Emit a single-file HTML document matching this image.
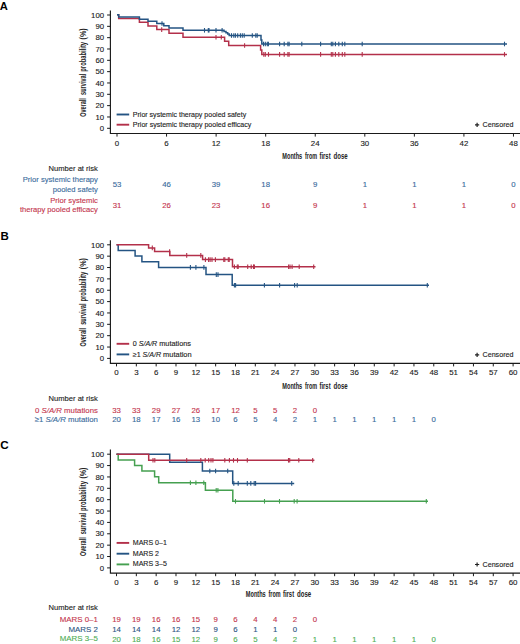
<!DOCTYPE html><html><head><meta charset="utf-8"><style>html,body{margin:0;padding:0;background:#fff;width:520px;height:644px;overflow:hidden}svg{display:block}text{font-family:"Liberation Sans",sans-serif;stroke-width:0.12px}</style></head><body>
<svg width="520" height="644" viewBox="0 0 520 644">
<rect width="520" height="644" fill="#fff"/>
<path d="M110.4 10.4 V133.5 H520" fill="none" stroke="#1a1a1a" stroke-width="1.15"/>
<line x1="107.10000000000001" y1="128.30" x2="110.4" y2="128.30" stroke="#1a1a1a" stroke-width="1"/>
<text x="104.10" y="131.00" font-size="7.8" text-anchor="end" fill="#222"  stroke="#222">0</text>
<line x1="107.10000000000001" y1="116.97" x2="110.4" y2="116.97" stroke="#1a1a1a" stroke-width="1"/>
<text x="104.10" y="119.67" font-size="7.8" text-anchor="end" fill="#222"  stroke="#222">10</text>
<line x1="107.10000000000001" y1="105.64" x2="110.4" y2="105.64" stroke="#1a1a1a" stroke-width="1"/>
<text x="104.10" y="108.34" font-size="7.8" text-anchor="end" fill="#222"  stroke="#222">20</text>
<line x1="107.10000000000001" y1="94.31" x2="110.4" y2="94.31" stroke="#1a1a1a" stroke-width="1"/>
<text x="104.10" y="97.01" font-size="7.8" text-anchor="end" fill="#222"  stroke="#222">30</text>
<line x1="107.10000000000001" y1="82.98" x2="110.4" y2="82.98" stroke="#1a1a1a" stroke-width="1"/>
<text x="104.10" y="85.68" font-size="7.8" text-anchor="end" fill="#222"  stroke="#222">40</text>
<line x1="107.10000000000001" y1="71.65" x2="110.4" y2="71.65" stroke="#1a1a1a" stroke-width="1"/>
<text x="104.10" y="74.35" font-size="7.8" text-anchor="end" fill="#222"  stroke="#222">50</text>
<line x1="107.10000000000001" y1="60.32" x2="110.4" y2="60.32" stroke="#1a1a1a" stroke-width="1"/>
<text x="104.10" y="63.02" font-size="7.8" text-anchor="end" fill="#222"  stroke="#222">60</text>
<line x1="107.10000000000001" y1="48.99" x2="110.4" y2="48.99" stroke="#1a1a1a" stroke-width="1"/>
<text x="104.10" y="51.69" font-size="7.8" text-anchor="end" fill="#222"  stroke="#222">70</text>
<line x1="107.10000000000001" y1="37.66" x2="110.4" y2="37.66" stroke="#1a1a1a" stroke-width="1"/>
<text x="104.10" y="40.36" font-size="7.8" text-anchor="end" fill="#222"  stroke="#222">80</text>
<line x1="107.10000000000001" y1="26.33" x2="110.4" y2="26.33" stroke="#1a1a1a" stroke-width="1"/>
<text x="104.10" y="29.03" font-size="7.8" text-anchor="end" fill="#222"  stroke="#222">90</text>
<line x1="107.10000000000001" y1="15.00" x2="110.4" y2="15.00" stroke="#1a1a1a" stroke-width="1"/>
<text x="104.10" y="17.70" font-size="7.8" text-anchor="end" fill="#222"  stroke="#222">100</text>
<line x1="117.00" y1="133.5" x2="117.00" y2="136.60" stroke="#1a1a1a" stroke-width="1"/>
<text x="117.00" y="145.60" font-size="7.9" text-anchor="middle" fill="#222"  stroke="#222">0</text>
<line x1="166.56" y1="133.5" x2="166.56" y2="136.60" stroke="#1a1a1a" stroke-width="1"/>
<text x="166.56" y="145.60" font-size="7.9" text-anchor="middle" fill="#222"  stroke="#222">6</text>
<line x1="216.12" y1="133.5" x2="216.12" y2="136.60" stroke="#1a1a1a" stroke-width="1"/>
<text x="216.12" y="145.60" font-size="7.9" text-anchor="middle" fill="#222"  stroke="#222">12</text>
<line x1="265.68" y1="133.5" x2="265.68" y2="136.60" stroke="#1a1a1a" stroke-width="1"/>
<text x="265.68" y="145.60" font-size="7.9" text-anchor="middle" fill="#222"  stroke="#222">18</text>
<line x1="315.24" y1="133.5" x2="315.24" y2="136.60" stroke="#1a1a1a" stroke-width="1"/>
<text x="315.24" y="145.60" font-size="7.9" text-anchor="middle" fill="#222"  stroke="#222">24</text>
<line x1="364.80" y1="133.5" x2="364.80" y2="136.60" stroke="#1a1a1a" stroke-width="1"/>
<text x="364.80" y="145.60" font-size="7.9" text-anchor="middle" fill="#222"  stroke="#222">30</text>
<line x1="414.36" y1="133.5" x2="414.36" y2="136.60" stroke="#1a1a1a" stroke-width="1"/>
<text x="414.36" y="145.60" font-size="7.9" text-anchor="middle" fill="#222"  stroke="#222">36</text>
<line x1="463.92" y1="133.5" x2="463.92" y2="136.60" stroke="#1a1a1a" stroke-width="1"/>
<text x="463.92" y="145.60" font-size="7.9" text-anchor="middle" fill="#222"  stroke="#222">42</text>
<line x1="513.48" y1="133.5" x2="513.48" y2="136.60" stroke="#1a1a1a" stroke-width="1"/>
<text x="513.48" y="145.60" font-size="7.9" text-anchor="middle" fill="#222"  stroke="#222">48</text>
<text x="282.30" y="158.6" font-size="8.7" fill="#222" textLength="19.9" lengthAdjust="spacingAndGlyphs" font-weight="bold">Months</text>
<text x="305.00" y="158.6" font-size="8.7" fill="#222" textLength="12.1" lengthAdjust="spacingAndGlyphs" font-weight="bold">from</text>
<text x="319.50" y="158.6" font-size="8.7" fill="#222" textLength="11.1" lengthAdjust="spacingAndGlyphs" font-weight="bold">first</text>
<text x="333.50" y="158.6" font-size="8.7" fill="#222" textLength="14.2" lengthAdjust="spacingAndGlyphs" font-weight="bold">dose</text>
<text transform="translate(86.1 116.80) rotate(-90)" x="0" y="0" font-size="8.6" fill="#222" textLength="18.7" lengthAdjust="spacingAndGlyphs" font-weight="bold">Overall</text>
<text transform="translate(86.1 95.00) rotate(-90)" x="0" y="0" font-size="8.6" fill="#222" textLength="21.3" lengthAdjust="spacingAndGlyphs" font-weight="bold">survival</text>
<text transform="translate(86.1 71.70) rotate(-90)" x="0" y="0" font-size="8.6" fill="#222" textLength="29.8" lengthAdjust="spacingAndGlyphs" font-weight="bold">probability</text>
<text transform="translate(86.1 39.40) rotate(-90)" x="0" y="0" font-size="8.6" fill="#222" textLength="11.1" lengthAdjust="spacingAndGlyphs" font-weight="bold">(%)</text>
<text x="-0.3" y="10.1" font-size="11.2" font-weight="bold" fill="#000">A</text>
<path d="M475 124.80 H479.2 M477.1 122.70 V126.90" stroke="#222" stroke-width="1.2"/>
<text x="482.5" y="127.10" font-size="7.2" fill="#222" textLength="31" lengthAdjust="spacingAndGlyphs" stroke="#222">Censored</text>
<path d="M110.4 240.2 V363.3 H520" fill="none" stroke="#1a1a1a" stroke-width="1.15"/>
<line x1="107.10000000000001" y1="358.40" x2="110.4" y2="358.40" stroke="#1a1a1a" stroke-width="1"/>
<text x="104.10" y="361.10" font-size="7.8" text-anchor="end" fill="#222"  stroke="#222">0</text>
<line x1="107.10000000000001" y1="347.04" x2="110.4" y2="347.04" stroke="#1a1a1a" stroke-width="1"/>
<text x="104.10" y="349.74" font-size="7.8" text-anchor="end" fill="#222"  stroke="#222">10</text>
<line x1="107.10000000000001" y1="335.68" x2="110.4" y2="335.68" stroke="#1a1a1a" stroke-width="1"/>
<text x="104.10" y="338.38" font-size="7.8" text-anchor="end" fill="#222"  stroke="#222">20</text>
<line x1="107.10000000000001" y1="324.32" x2="110.4" y2="324.32" stroke="#1a1a1a" stroke-width="1"/>
<text x="104.10" y="327.02" font-size="7.8" text-anchor="end" fill="#222"  stroke="#222">30</text>
<line x1="107.10000000000001" y1="312.96" x2="110.4" y2="312.96" stroke="#1a1a1a" stroke-width="1"/>
<text x="104.10" y="315.66" font-size="7.8" text-anchor="end" fill="#222"  stroke="#222">40</text>
<line x1="107.10000000000001" y1="301.60" x2="110.4" y2="301.60" stroke="#1a1a1a" stroke-width="1"/>
<text x="104.10" y="304.30" font-size="7.8" text-anchor="end" fill="#222"  stroke="#222">50</text>
<line x1="107.10000000000001" y1="290.24" x2="110.4" y2="290.24" stroke="#1a1a1a" stroke-width="1"/>
<text x="104.10" y="292.94" font-size="7.8" text-anchor="end" fill="#222"  stroke="#222">60</text>
<line x1="107.10000000000001" y1="278.88" x2="110.4" y2="278.88" stroke="#1a1a1a" stroke-width="1"/>
<text x="104.10" y="281.58" font-size="7.8" text-anchor="end" fill="#222"  stroke="#222">70</text>
<line x1="107.10000000000001" y1="267.52" x2="110.4" y2="267.52" stroke="#1a1a1a" stroke-width="1"/>
<text x="104.10" y="270.22" font-size="7.8" text-anchor="end" fill="#222"  stroke="#222">80</text>
<line x1="107.10000000000001" y1="256.16" x2="110.4" y2="256.16" stroke="#1a1a1a" stroke-width="1"/>
<text x="104.10" y="258.86" font-size="7.8" text-anchor="end" fill="#222"  stroke="#222">90</text>
<line x1="107.10000000000001" y1="244.80" x2="110.4" y2="244.80" stroke="#1a1a1a" stroke-width="1"/>
<text x="104.10" y="247.50" font-size="7.8" text-anchor="end" fill="#222"  stroke="#222">100</text>
<line x1="116.50" y1="363.3" x2="116.50" y2="366.40" stroke="#1a1a1a" stroke-width="1"/>
<text x="116.50" y="375.40" font-size="7.9" text-anchor="middle" fill="#222"  stroke="#222">0</text>
<line x1="136.33" y1="363.3" x2="136.33" y2="366.40" stroke="#1a1a1a" stroke-width="1"/>
<text x="136.33" y="375.40" font-size="7.9" text-anchor="middle" fill="#222"  stroke="#222">3</text>
<line x1="156.16" y1="363.3" x2="156.16" y2="366.40" stroke="#1a1a1a" stroke-width="1"/>
<text x="156.16" y="375.40" font-size="7.9" text-anchor="middle" fill="#222"  stroke="#222">6</text>
<line x1="175.99" y1="363.3" x2="175.99" y2="366.40" stroke="#1a1a1a" stroke-width="1"/>
<text x="175.99" y="375.40" font-size="7.9" text-anchor="middle" fill="#222"  stroke="#222">9</text>
<line x1="195.82" y1="363.3" x2="195.82" y2="366.40" stroke="#1a1a1a" stroke-width="1"/>
<text x="195.82" y="375.40" font-size="7.9" text-anchor="middle" fill="#222"  stroke="#222">12</text>
<line x1="215.65" y1="363.3" x2="215.65" y2="366.40" stroke="#1a1a1a" stroke-width="1"/>
<text x="215.65" y="375.40" font-size="7.9" text-anchor="middle" fill="#222"  stroke="#222">15</text>
<line x1="235.48" y1="363.3" x2="235.48" y2="366.40" stroke="#1a1a1a" stroke-width="1"/>
<text x="235.48" y="375.40" font-size="7.9" text-anchor="middle" fill="#222"  stroke="#222">18</text>
<line x1="255.31" y1="363.3" x2="255.31" y2="366.40" stroke="#1a1a1a" stroke-width="1"/>
<text x="255.31" y="375.40" font-size="7.9" text-anchor="middle" fill="#222"  stroke="#222">21</text>
<line x1="275.14" y1="363.3" x2="275.14" y2="366.40" stroke="#1a1a1a" stroke-width="1"/>
<text x="275.14" y="375.40" font-size="7.9" text-anchor="middle" fill="#222"  stroke="#222">24</text>
<line x1="294.97" y1="363.3" x2="294.97" y2="366.40" stroke="#1a1a1a" stroke-width="1"/>
<text x="294.97" y="375.40" font-size="7.9" text-anchor="middle" fill="#222"  stroke="#222">27</text>
<line x1="314.80" y1="363.3" x2="314.80" y2="366.40" stroke="#1a1a1a" stroke-width="1"/>
<text x="314.80" y="375.40" font-size="7.9" text-anchor="middle" fill="#222"  stroke="#222">30</text>
<line x1="334.63" y1="363.3" x2="334.63" y2="366.40" stroke="#1a1a1a" stroke-width="1"/>
<text x="334.63" y="375.40" font-size="7.9" text-anchor="middle" fill="#222"  stroke="#222">33</text>
<line x1="354.46" y1="363.3" x2="354.46" y2="366.40" stroke="#1a1a1a" stroke-width="1"/>
<text x="354.46" y="375.40" font-size="7.9" text-anchor="middle" fill="#222"  stroke="#222">36</text>
<line x1="374.29" y1="363.3" x2="374.29" y2="366.40" stroke="#1a1a1a" stroke-width="1"/>
<text x="374.29" y="375.40" font-size="7.9" text-anchor="middle" fill="#222"  stroke="#222">39</text>
<line x1="394.12" y1="363.3" x2="394.12" y2="366.40" stroke="#1a1a1a" stroke-width="1"/>
<text x="394.12" y="375.40" font-size="7.9" text-anchor="middle" fill="#222"  stroke="#222">42</text>
<line x1="413.95" y1="363.3" x2="413.95" y2="366.40" stroke="#1a1a1a" stroke-width="1"/>
<text x="413.95" y="375.40" font-size="7.9" text-anchor="middle" fill="#222"  stroke="#222">45</text>
<line x1="433.78" y1="363.3" x2="433.78" y2="366.40" stroke="#1a1a1a" stroke-width="1"/>
<text x="433.78" y="375.40" font-size="7.9" text-anchor="middle" fill="#222"  stroke="#222">48</text>
<line x1="453.61" y1="363.3" x2="453.61" y2="366.40" stroke="#1a1a1a" stroke-width="1"/>
<text x="453.61" y="375.40" font-size="7.9" text-anchor="middle" fill="#222"  stroke="#222">51</text>
<line x1="473.44" y1="363.3" x2="473.44" y2="366.40" stroke="#1a1a1a" stroke-width="1"/>
<text x="473.44" y="375.40" font-size="7.9" text-anchor="middle" fill="#222"  stroke="#222">54</text>
<line x1="493.27" y1="363.3" x2="493.27" y2="366.40" stroke="#1a1a1a" stroke-width="1"/>
<text x="493.27" y="375.40" font-size="7.9" text-anchor="middle" fill="#222"  stroke="#222">57</text>
<line x1="513.10" y1="363.3" x2="513.10" y2="366.40" stroke="#1a1a1a" stroke-width="1"/>
<text x="513.10" y="375.40" font-size="7.9" text-anchor="middle" fill="#222"  stroke="#222">60</text>
<text x="282.30" y="388.5" font-size="8.7" fill="#222" textLength="19.9" lengthAdjust="spacingAndGlyphs" font-weight="bold">Months</text>
<text x="305.00" y="388.5" font-size="8.7" fill="#222" textLength="12.1" lengthAdjust="spacingAndGlyphs" font-weight="bold">from</text>
<text x="319.50" y="388.5" font-size="8.7" fill="#222" textLength="11.1" lengthAdjust="spacingAndGlyphs" font-weight="bold">first</text>
<text x="333.50" y="388.5" font-size="8.7" fill="#222" textLength="14.2" lengthAdjust="spacingAndGlyphs" font-weight="bold">dose</text>
<text transform="translate(86.1 346.60) rotate(-90)" x="0" y="0" font-size="8.6" fill="#222" textLength="18.7" lengthAdjust="spacingAndGlyphs" font-weight="bold">Overall</text>
<text transform="translate(86.1 324.80) rotate(-90)" x="0" y="0" font-size="8.6" fill="#222" textLength="21.3" lengthAdjust="spacingAndGlyphs" font-weight="bold">survival</text>
<text transform="translate(86.1 301.50) rotate(-90)" x="0" y="0" font-size="8.6" fill="#222" textLength="29.8" lengthAdjust="spacingAndGlyphs" font-weight="bold">probability</text>
<text transform="translate(86.1 269.20) rotate(-90)" x="0" y="0" font-size="8.6" fill="#222" textLength="11.1" lengthAdjust="spacingAndGlyphs" font-weight="bold">(%)</text>
<text x="0.4" y="239.6" font-size="11.5" font-weight="bold" fill="#000">B</text>
<path d="M475 354.90 H479.2 M477.1 352.80 V357.00" stroke="#222" stroke-width="1.2"/>
<text x="482.5" y="357.20" font-size="7.2" fill="#222" textLength="31" lengthAdjust="spacingAndGlyphs" stroke="#222">Censored</text>
<path d="M110.4 449.6 V573.1 H520" fill="none" stroke="#1a1a1a" stroke-width="1.15"/>
<line x1="107.10000000000001" y1="567.90" x2="110.4" y2="567.90" stroke="#1a1a1a" stroke-width="1"/>
<text x="104.10" y="570.60" font-size="7.8" text-anchor="end" fill="#222"  stroke="#222">0</text>
<line x1="107.10000000000001" y1="556.53" x2="110.4" y2="556.53" stroke="#1a1a1a" stroke-width="1"/>
<text x="104.10" y="559.23" font-size="7.8" text-anchor="end" fill="#222"  stroke="#222">10</text>
<line x1="107.10000000000001" y1="545.16" x2="110.4" y2="545.16" stroke="#1a1a1a" stroke-width="1"/>
<text x="104.10" y="547.86" font-size="7.8" text-anchor="end" fill="#222"  stroke="#222">20</text>
<line x1="107.10000000000001" y1="533.79" x2="110.4" y2="533.79" stroke="#1a1a1a" stroke-width="1"/>
<text x="104.10" y="536.49" font-size="7.8" text-anchor="end" fill="#222"  stroke="#222">30</text>
<line x1="107.10000000000001" y1="522.42" x2="110.4" y2="522.42" stroke="#1a1a1a" stroke-width="1"/>
<text x="104.10" y="525.12" font-size="7.8" text-anchor="end" fill="#222"  stroke="#222">40</text>
<line x1="107.10000000000001" y1="511.05" x2="110.4" y2="511.05" stroke="#1a1a1a" stroke-width="1"/>
<text x="104.10" y="513.75" font-size="7.8" text-anchor="end" fill="#222"  stroke="#222">50</text>
<line x1="107.10000000000001" y1="499.68" x2="110.4" y2="499.68" stroke="#1a1a1a" stroke-width="1"/>
<text x="104.10" y="502.38" font-size="7.8" text-anchor="end" fill="#222"  stroke="#222">60</text>
<line x1="107.10000000000001" y1="488.31" x2="110.4" y2="488.31" stroke="#1a1a1a" stroke-width="1"/>
<text x="104.10" y="491.01" font-size="7.8" text-anchor="end" fill="#222"  stroke="#222">70</text>
<line x1="107.10000000000001" y1="476.94" x2="110.4" y2="476.94" stroke="#1a1a1a" stroke-width="1"/>
<text x="104.10" y="479.64" font-size="7.8" text-anchor="end" fill="#222"  stroke="#222">80</text>
<line x1="107.10000000000001" y1="465.57" x2="110.4" y2="465.57" stroke="#1a1a1a" stroke-width="1"/>
<text x="104.10" y="468.27" font-size="7.8" text-anchor="end" fill="#222"  stroke="#222">90</text>
<line x1="107.10000000000001" y1="454.20" x2="110.4" y2="454.20" stroke="#1a1a1a" stroke-width="1"/>
<text x="104.10" y="456.90" font-size="7.8" text-anchor="end" fill="#222"  stroke="#222">100</text>
<line x1="116.50" y1="573.1" x2="116.50" y2="576.20" stroke="#1a1a1a" stroke-width="1"/>
<text x="116.50" y="584.80" font-size="7.9" text-anchor="middle" fill="#222"  stroke="#222">0</text>
<line x1="136.33" y1="573.1" x2="136.33" y2="576.20" stroke="#1a1a1a" stroke-width="1"/>
<text x="136.33" y="584.80" font-size="7.9" text-anchor="middle" fill="#222"  stroke="#222">3</text>
<line x1="156.16" y1="573.1" x2="156.16" y2="576.20" stroke="#1a1a1a" stroke-width="1"/>
<text x="156.16" y="584.80" font-size="7.9" text-anchor="middle" fill="#222"  stroke="#222">6</text>
<line x1="175.99" y1="573.1" x2="175.99" y2="576.20" stroke="#1a1a1a" stroke-width="1"/>
<text x="175.99" y="584.80" font-size="7.9" text-anchor="middle" fill="#222"  stroke="#222">9</text>
<line x1="195.82" y1="573.1" x2="195.82" y2="576.20" stroke="#1a1a1a" stroke-width="1"/>
<text x="195.82" y="584.80" font-size="7.9" text-anchor="middle" fill="#222"  stroke="#222">12</text>
<line x1="215.65" y1="573.1" x2="215.65" y2="576.20" stroke="#1a1a1a" stroke-width="1"/>
<text x="215.65" y="584.80" font-size="7.9" text-anchor="middle" fill="#222"  stroke="#222">15</text>
<line x1="235.48" y1="573.1" x2="235.48" y2="576.20" stroke="#1a1a1a" stroke-width="1"/>
<text x="235.48" y="584.80" font-size="7.9" text-anchor="middle" fill="#222"  stroke="#222">18</text>
<line x1="255.31" y1="573.1" x2="255.31" y2="576.20" stroke="#1a1a1a" stroke-width="1"/>
<text x="255.31" y="584.80" font-size="7.9" text-anchor="middle" fill="#222"  stroke="#222">21</text>
<line x1="275.14" y1="573.1" x2="275.14" y2="576.20" stroke="#1a1a1a" stroke-width="1"/>
<text x="275.14" y="584.80" font-size="7.9" text-anchor="middle" fill="#222"  stroke="#222">24</text>
<line x1="294.97" y1="573.1" x2="294.97" y2="576.20" stroke="#1a1a1a" stroke-width="1"/>
<text x="294.97" y="584.80" font-size="7.9" text-anchor="middle" fill="#222"  stroke="#222">27</text>
<line x1="314.80" y1="573.1" x2="314.80" y2="576.20" stroke="#1a1a1a" stroke-width="1"/>
<text x="314.80" y="584.80" font-size="7.9" text-anchor="middle" fill="#222"  stroke="#222">30</text>
<line x1="334.63" y1="573.1" x2="334.63" y2="576.20" stroke="#1a1a1a" stroke-width="1"/>
<text x="334.63" y="584.80" font-size="7.9" text-anchor="middle" fill="#222"  stroke="#222">33</text>
<line x1="354.46" y1="573.1" x2="354.46" y2="576.20" stroke="#1a1a1a" stroke-width="1"/>
<text x="354.46" y="584.80" font-size="7.9" text-anchor="middle" fill="#222"  stroke="#222">36</text>
<line x1="374.29" y1="573.1" x2="374.29" y2="576.20" stroke="#1a1a1a" stroke-width="1"/>
<text x="374.29" y="584.80" font-size="7.9" text-anchor="middle" fill="#222"  stroke="#222">39</text>
<line x1="394.12" y1="573.1" x2="394.12" y2="576.20" stroke="#1a1a1a" stroke-width="1"/>
<text x="394.12" y="584.80" font-size="7.9" text-anchor="middle" fill="#222"  stroke="#222">42</text>
<line x1="413.95" y1="573.1" x2="413.95" y2="576.20" stroke="#1a1a1a" stroke-width="1"/>
<text x="413.95" y="584.80" font-size="7.9" text-anchor="middle" fill="#222"  stroke="#222">45</text>
<line x1="433.78" y1="573.1" x2="433.78" y2="576.20" stroke="#1a1a1a" stroke-width="1"/>
<text x="433.78" y="584.80" font-size="7.9" text-anchor="middle" fill="#222"  stroke="#222">48</text>
<line x1="453.61" y1="573.1" x2="453.61" y2="576.20" stroke="#1a1a1a" stroke-width="1"/>
<text x="453.61" y="584.80" font-size="7.9" text-anchor="middle" fill="#222"  stroke="#222">51</text>
<line x1="473.44" y1="573.1" x2="473.44" y2="576.20" stroke="#1a1a1a" stroke-width="1"/>
<text x="473.44" y="584.80" font-size="7.9" text-anchor="middle" fill="#222"  stroke="#222">54</text>
<line x1="493.27" y1="573.1" x2="493.27" y2="576.20" stroke="#1a1a1a" stroke-width="1"/>
<text x="493.27" y="584.80" font-size="7.9" text-anchor="middle" fill="#222"  stroke="#222">57</text>
<line x1="513.10" y1="573.1" x2="513.10" y2="576.20" stroke="#1a1a1a" stroke-width="1"/>
<text x="513.10" y="584.80" font-size="7.9" text-anchor="middle" fill="#222"  stroke="#222">60</text>
<text x="245.80" y="597.1" font-size="8.7" fill="#222" textLength="19.9" lengthAdjust="spacingAndGlyphs" font-weight="bold">Months</text>
<text x="268.50" y="597.1" font-size="8.7" fill="#222" textLength="12.1" lengthAdjust="spacingAndGlyphs" font-weight="bold">from</text>
<text x="283.00" y="597.1" font-size="8.7" fill="#222" textLength="11.1" lengthAdjust="spacingAndGlyphs" font-weight="bold">first</text>
<text x="297.00" y="597.1" font-size="8.7" fill="#222" textLength="14.2" lengthAdjust="spacingAndGlyphs" font-weight="bold">dose</text>
<text transform="translate(86.1 556.00) rotate(-90)" x="0" y="0" font-size="8.6" fill="#222" textLength="18.7" lengthAdjust="spacingAndGlyphs" font-weight="bold">Overall</text>
<text transform="translate(86.1 534.20) rotate(-90)" x="0" y="0" font-size="8.6" fill="#222" textLength="21.3" lengthAdjust="spacingAndGlyphs" font-weight="bold">survival</text>
<text transform="translate(86.1 510.90) rotate(-90)" x="0" y="0" font-size="8.6" fill="#222" textLength="29.8" lengthAdjust="spacingAndGlyphs" font-weight="bold">probability</text>
<text transform="translate(86.1 478.60) rotate(-90)" x="0" y="0" font-size="8.6" fill="#222" textLength="11.1" lengthAdjust="spacingAndGlyphs" font-weight="bold">(%)</text>
<text x="0.2" y="449.4" font-size="11.7" font-weight="bold" fill="#000">C</text>
<path d="M475 564.50 H479.2 M477.1 562.40 V566.60" stroke="#222" stroke-width="1.2"/>
<text x="482.5" y="566.80" font-size="7.2" fill="#222" textLength="31" lengthAdjust="spacingAndGlyphs" stroke="#222">Censored</text>
<path d="M117.00 14.80 H118.70 V18.50 H139.40 V22.20 H148.00 V25.90 H156.80 V29.60 H169.00 V33.30 H183.00 V37.20 H224.60 V41.30 H228.70 V45.50 H260.60 V50.00 H261.80 V54.40 H507.00" fill="none" stroke="#b3304a" stroke-width="1.5" stroke-linejoin="miter"/>
<line x1="161.70" y1="27.30" x2="161.70" y2="31.90" stroke="#b3304a" stroke-width="1.1"/>
<line x1="216.00" y1="34.90" x2="216.00" y2="39.50" stroke="#b3304a" stroke-width="1.1"/>
<line x1="221.30" y1="34.90" x2="221.30" y2="39.50" stroke="#b3304a" stroke-width="1.1"/>
<line x1="244.60" y1="43.20" x2="244.60" y2="47.80" stroke="#b3304a" stroke-width="1.1"/>
<line x1="263.80" y1="52.10" x2="263.80" y2="56.70" stroke="#b3304a" stroke-width="1.1"/>
<line x1="265.30" y1="52.10" x2="265.30" y2="56.70" stroke="#b3304a" stroke-width="1.1"/>
<line x1="268.50" y1="52.10" x2="268.50" y2="56.70" stroke="#b3304a" stroke-width="1.1"/>
<line x1="279.60" y1="52.10" x2="279.60" y2="56.70" stroke="#b3304a" stroke-width="1.1"/>
<line x1="284.20" y1="52.10" x2="284.20" y2="56.70" stroke="#b3304a" stroke-width="1.1"/>
<line x1="287.90" y1="52.10" x2="287.90" y2="56.70" stroke="#b3304a" stroke-width="1.1"/>
<line x1="289.10" y1="52.10" x2="289.10" y2="56.70" stroke="#b3304a" stroke-width="1.1"/>
<line x1="320.60" y1="52.10" x2="320.60" y2="56.70" stroke="#b3304a" stroke-width="1.1"/>
<line x1="331.30" y1="52.10" x2="331.30" y2="56.70" stroke="#b3304a" stroke-width="1.1"/>
<line x1="332.80" y1="52.10" x2="332.80" y2="56.70" stroke="#b3304a" stroke-width="1.1"/>
<line x1="335.40" y1="52.10" x2="335.40" y2="56.70" stroke="#b3304a" stroke-width="1.1"/>
<line x1="338.80" y1="52.10" x2="338.80" y2="56.70" stroke="#b3304a" stroke-width="1.1"/>
<line x1="342.30" y1="52.10" x2="342.30" y2="56.70" stroke="#b3304a" stroke-width="1.1"/>
<line x1="344.80" y1="52.10" x2="344.80" y2="56.70" stroke="#b3304a" stroke-width="1.1"/>
<line x1="362.20" y1="52.10" x2="362.20" y2="56.70" stroke="#b3304a" stroke-width="1.1"/>
<line x1="504.50" y1="52.10" x2="504.50" y2="56.70" stroke="#b3304a" stroke-width="1.1"/>
<path d="M117.00 14.80 H118.70 V17.10 H139.40 V19.30 H148.00 V21.30 H156.80 V23.50 H163.80 V25.70 H169.00 V28.00 H183.00 V30.30 H224.00 V31.40 H226.00 V32.80 H227.70 V34.00 H229.20 V35.50 H261.00 V40.00 H261.80 V44.00 H507.00" fill="none" stroke="#245483" stroke-width="1.5" stroke-linejoin="miter"/>
<line x1="162.00" y1="21.20" x2="162.00" y2="25.80" stroke="#245483" stroke-width="1.1"/>
<line x1="204.50" y1="28.00" x2="204.50" y2="32.60" stroke="#245483" stroke-width="1.1"/>
<line x1="208.30" y1="28.00" x2="208.30" y2="32.60" stroke="#245483" stroke-width="1.1"/>
<line x1="209.00" y1="28.00" x2="209.00" y2="32.60" stroke="#245483" stroke-width="1.1"/>
<line x1="216.00" y1="28.00" x2="216.00" y2="32.60" stroke="#245483" stroke-width="1.1"/>
<line x1="222.10" y1="28.00" x2="222.10" y2="32.60" stroke="#245483" stroke-width="1.1"/>
<line x1="231.50" y1="33.20" x2="231.50" y2="37.80" stroke="#245483" stroke-width="1.1"/>
<line x1="233.80" y1="33.20" x2="233.80" y2="37.80" stroke="#245483" stroke-width="1.1"/>
<line x1="235.40" y1="33.20" x2="235.40" y2="37.80" stroke="#245483" stroke-width="1.1"/>
<line x1="237.70" y1="33.20" x2="237.70" y2="37.80" stroke="#245483" stroke-width="1.1"/>
<line x1="240.40" y1="33.20" x2="240.40" y2="37.80" stroke="#245483" stroke-width="1.1"/>
<line x1="242.30" y1="33.20" x2="242.30" y2="37.80" stroke="#245483" stroke-width="1.1"/>
<line x1="244.20" y1="33.20" x2="244.20" y2="37.80" stroke="#245483" stroke-width="1.1"/>
<line x1="252.30" y1="33.20" x2="252.30" y2="37.80" stroke="#245483" stroke-width="1.1"/>
<line x1="255.80" y1="33.20" x2="255.80" y2="37.80" stroke="#245483" stroke-width="1.1"/>
<line x1="257.20" y1="33.20" x2="257.20" y2="37.80" stroke="#245483" stroke-width="1.1"/>
<line x1="263.50" y1="41.70" x2="263.50" y2="46.30" stroke="#245483" stroke-width="1.1"/>
<line x1="265.30" y1="41.70" x2="265.30" y2="46.30" stroke="#245483" stroke-width="1.1"/>
<line x1="267.30" y1="41.70" x2="267.30" y2="46.30" stroke="#245483" stroke-width="1.1"/>
<line x1="268.40" y1="41.70" x2="268.40" y2="46.30" stroke="#245483" stroke-width="1.1"/>
<line x1="279.60" y1="41.70" x2="279.60" y2="46.30" stroke="#245483" stroke-width="1.1"/>
<line x1="284.20" y1="41.70" x2="284.20" y2="46.30" stroke="#245483" stroke-width="1.1"/>
<line x1="287.90" y1="41.70" x2="287.90" y2="46.30" stroke="#245483" stroke-width="1.1"/>
<line x1="289.10" y1="41.70" x2="289.10" y2="46.30" stroke="#245483" stroke-width="1.1"/>
<line x1="301.80" y1="41.70" x2="301.80" y2="46.30" stroke="#245483" stroke-width="1.1"/>
<line x1="320.60" y1="41.70" x2="320.60" y2="46.30" stroke="#245483" stroke-width="1.1"/>
<line x1="331.30" y1="41.70" x2="331.30" y2="46.30" stroke="#245483" stroke-width="1.1"/>
<line x1="332.80" y1="41.70" x2="332.80" y2="46.30" stroke="#245483" stroke-width="1.1"/>
<line x1="335.40" y1="41.70" x2="335.40" y2="46.30" stroke="#245483" stroke-width="1.1"/>
<line x1="338.80" y1="41.70" x2="338.80" y2="46.30" stroke="#245483" stroke-width="1.1"/>
<line x1="342.30" y1="41.70" x2="342.30" y2="46.30" stroke="#245483" stroke-width="1.1"/>
<line x1="344.80" y1="41.70" x2="344.80" y2="46.30" stroke="#245483" stroke-width="1.1"/>
<line x1="362.20" y1="41.70" x2="362.20" y2="46.30" stroke="#245483" stroke-width="1.1"/>
<line x1="504.50" y1="41.70" x2="504.50" y2="46.30" stroke="#245483" stroke-width="1.1"/>
<path d="M116.50 244.80 H118.20 V250.50 H135.10 V256.10 H141.90 V261.80 H158.60 V267.40 H206.00 V274.60 H232.20 V285.30 H429.00" fill="none" stroke="#245483" stroke-width="1.5" stroke-linejoin="miter"/>
<line x1="190.40" y1="265.10" x2="190.40" y2="269.70" stroke="#245483" stroke-width="1.1"/>
<line x1="195.90" y1="265.10" x2="195.90" y2="269.70" stroke="#245483" stroke-width="1.1"/>
<line x1="203.90" y1="265.10" x2="203.90" y2="269.70" stroke="#245483" stroke-width="1.1"/>
<line x1="216.30" y1="272.30" x2="216.30" y2="276.90" stroke="#245483" stroke-width="1.1"/>
<line x1="218.00" y1="272.30" x2="218.00" y2="276.90" stroke="#245483" stroke-width="1.1"/>
<line x1="234.40" y1="283.00" x2="234.40" y2="287.60" stroke="#245483" stroke-width="1.1"/>
<line x1="235.60" y1="283.00" x2="235.60" y2="287.60" stroke="#245483" stroke-width="1.1"/>
<line x1="264.40" y1="283.00" x2="264.40" y2="287.60" stroke="#245483" stroke-width="1.1"/>
<line x1="279.60" y1="283.00" x2="279.60" y2="287.60" stroke="#245483" stroke-width="1.1"/>
<line x1="294.60" y1="283.00" x2="294.60" y2="287.60" stroke="#245483" stroke-width="1.1"/>
<line x1="297.20" y1="283.00" x2="297.20" y2="287.60" stroke="#245483" stroke-width="1.1"/>
<line x1="427.30" y1="283.00" x2="427.30" y2="287.60" stroke="#245483" stroke-width="1.1"/>
<path d="M116.50 244.80 H148.60 V247.90 H154.60 V251.50 H169.80 V255.40 H202.60 V259.60 H232.50 V266.70 H315.50" fill="none" stroke="#b3304a" stroke-width="1.5" stroke-linejoin="miter"/>
<line x1="152.30" y1="245.60" x2="152.30" y2="250.20" stroke="#b3304a" stroke-width="1.1"/>
<line x1="169.60" y1="249.20" x2="169.60" y2="253.80" stroke="#b3304a" stroke-width="1.1"/>
<line x1="186.70" y1="253.10" x2="186.70" y2="257.70" stroke="#b3304a" stroke-width="1.1"/>
<line x1="200.80" y1="253.10" x2="200.80" y2="257.70" stroke="#b3304a" stroke-width="1.1"/>
<line x1="205.40" y1="257.30" x2="205.40" y2="261.90" stroke="#b3304a" stroke-width="1.1"/>
<line x1="208.60" y1="257.30" x2="208.60" y2="261.90" stroke="#b3304a" stroke-width="1.1"/>
<line x1="210.10" y1="257.30" x2="210.10" y2="261.90" stroke="#b3304a" stroke-width="1.1"/>
<line x1="212.00" y1="257.30" x2="212.00" y2="261.90" stroke="#b3304a" stroke-width="1.1"/>
<line x1="215.40" y1="257.30" x2="215.40" y2="261.90" stroke="#b3304a" stroke-width="1.1"/>
<line x1="223.80" y1="257.30" x2="223.80" y2="261.90" stroke="#b3304a" stroke-width="1.1"/>
<line x1="224.80" y1="257.30" x2="224.80" y2="261.90" stroke="#b3304a" stroke-width="1.1"/>
<line x1="228.30" y1="257.30" x2="228.30" y2="261.90" stroke="#b3304a" stroke-width="1.1"/>
<line x1="229.20" y1="257.30" x2="229.20" y2="261.90" stroke="#b3304a" stroke-width="1.1"/>
<line x1="234.40" y1="264.40" x2="234.40" y2="269.00" stroke="#b3304a" stroke-width="1.1"/>
<line x1="237.30" y1="264.40" x2="237.30" y2="269.00" stroke="#b3304a" stroke-width="1.1"/>
<line x1="238.20" y1="264.40" x2="238.20" y2="269.00" stroke="#b3304a" stroke-width="1.1"/>
<line x1="247.70" y1="264.40" x2="247.70" y2="269.00" stroke="#b3304a" stroke-width="1.1"/>
<line x1="251.20" y1="264.40" x2="251.20" y2="269.00" stroke="#b3304a" stroke-width="1.1"/>
<line x1="253.50" y1="264.40" x2="253.50" y2="269.00" stroke="#b3304a" stroke-width="1.1"/>
<line x1="254.40" y1="264.40" x2="254.40" y2="269.00" stroke="#b3304a" stroke-width="1.1"/>
<line x1="288.60" y1="264.40" x2="288.60" y2="269.00" stroke="#b3304a" stroke-width="1.1"/>
<line x1="290.00" y1="264.40" x2="290.00" y2="269.00" stroke="#b3304a" stroke-width="1.1"/>
<line x1="292.10" y1="264.40" x2="292.10" y2="269.00" stroke="#b3304a" stroke-width="1.1"/>
<line x1="299.20" y1="264.40" x2="299.20" y2="269.00" stroke="#b3304a" stroke-width="1.1"/>
<line x1="313.70" y1="264.40" x2="313.70" y2="269.00" stroke="#b3304a" stroke-width="1.1"/>
<path d="M116.50 454.30 H118.20 V460.00 H134.60 V465.50 H141.90 V471.10 H154.60 V476.80 H158.70 V482.80 H205.40 V490.20 H232.80 V501.30 H428.00" fill="none" stroke="#45a050" stroke-width="1.5" stroke-linejoin="miter"/>
<line x1="190.40" y1="480.50" x2="190.40" y2="485.10" stroke="#45a050" stroke-width="1.1"/>
<line x1="195.90" y1="480.50" x2="195.90" y2="485.10" stroke="#45a050" stroke-width="1.1"/>
<line x1="203.80" y1="480.50" x2="203.80" y2="485.10" stroke="#45a050" stroke-width="1.1"/>
<line x1="216.20" y1="487.90" x2="216.20" y2="492.50" stroke="#45a050" stroke-width="1.1"/>
<line x1="217.90" y1="487.90" x2="217.90" y2="492.50" stroke="#45a050" stroke-width="1.1"/>
<line x1="235.50" y1="499.00" x2="235.50" y2="503.60" stroke="#45a050" stroke-width="1.1"/>
<line x1="264.50" y1="499.00" x2="264.50" y2="503.60" stroke="#45a050" stroke-width="1.1"/>
<line x1="279.50" y1="499.00" x2="279.50" y2="503.60" stroke="#45a050" stroke-width="1.1"/>
<line x1="294.20" y1="499.00" x2="294.20" y2="503.60" stroke="#45a050" stroke-width="1.1"/>
<line x1="297.10" y1="499.00" x2="297.10" y2="503.60" stroke="#45a050" stroke-width="1.1"/>
<line x1="426.30" y1="499.00" x2="426.30" y2="503.60" stroke="#45a050" stroke-width="1.1"/>
<path d="M116.50 454.30 H169.70 V462.30 H202.40 V471.00 H232.70 V483.40 H294.20" fill="none" stroke="#245483" stroke-width="1.5" stroke-linejoin="miter"/>
<line x1="209.80" y1="468.70" x2="209.80" y2="473.30" stroke="#245483" stroke-width="1.1"/>
<line x1="215.60" y1="468.70" x2="215.60" y2="473.30" stroke="#245483" stroke-width="1.1"/>
<line x1="227.70" y1="468.70" x2="227.70" y2="473.30" stroke="#245483" stroke-width="1.1"/>
<line x1="233.80" y1="481.10" x2="233.80" y2="485.70" stroke="#245483" stroke-width="1.1"/>
<line x1="238.20" y1="481.10" x2="238.20" y2="485.70" stroke="#245483" stroke-width="1.1"/>
<line x1="247.30" y1="481.10" x2="247.30" y2="485.70" stroke="#245483" stroke-width="1.1"/>
<line x1="250.80" y1="481.10" x2="250.80" y2="485.70" stroke="#245483" stroke-width="1.1"/>
<line x1="254.20" y1="481.10" x2="254.20" y2="485.70" stroke="#245483" stroke-width="1.1"/>
<line x1="255.60" y1="481.10" x2="255.60" y2="485.70" stroke="#245483" stroke-width="1.1"/>
<line x1="291.70" y1="481.10" x2="291.70" y2="485.70" stroke="#245483" stroke-width="1.1"/>
<path d="M116.50 454.30 H148.70 V460.30 H314.40" fill="none" stroke="#b3304a" stroke-width="1.5" stroke-linejoin="miter"/>
<line x1="153.00" y1="458.00" x2="153.00" y2="462.60" stroke="#b3304a" stroke-width="1.1"/>
<line x1="154.80" y1="458.00" x2="154.80" y2="462.60" stroke="#b3304a" stroke-width="1.1"/>
<line x1="186.70" y1="458.00" x2="186.70" y2="462.60" stroke="#b3304a" stroke-width="1.1"/>
<line x1="200.80" y1="458.00" x2="200.80" y2="462.60" stroke="#b3304a" stroke-width="1.1"/>
<line x1="205.20" y1="458.00" x2="205.20" y2="462.60" stroke="#b3304a" stroke-width="1.1"/>
<line x1="208.70" y1="458.00" x2="208.70" y2="462.60" stroke="#b3304a" stroke-width="1.1"/>
<line x1="211.00" y1="458.00" x2="211.00" y2="462.60" stroke="#b3304a" stroke-width="1.1"/>
<line x1="212.90" y1="458.00" x2="212.90" y2="462.60" stroke="#b3304a" stroke-width="1.1"/>
<line x1="224.80" y1="458.00" x2="224.80" y2="462.60" stroke="#b3304a" stroke-width="1.1"/>
<line x1="229.40" y1="458.00" x2="229.40" y2="462.60" stroke="#b3304a" stroke-width="1.1"/>
<line x1="233.50" y1="458.00" x2="233.50" y2="462.60" stroke="#b3304a" stroke-width="1.1"/>
<line x1="237.50" y1="458.00" x2="237.50" y2="462.60" stroke="#b3304a" stroke-width="1.1"/>
<line x1="247.30" y1="458.00" x2="247.30" y2="462.60" stroke="#b3304a" stroke-width="1.1"/>
<line x1="288.50" y1="458.00" x2="288.50" y2="462.60" stroke="#b3304a" stroke-width="1.1"/>
<line x1="289.70" y1="458.00" x2="289.70" y2="462.60" stroke="#b3304a" stroke-width="1.1"/>
<line x1="298.80" y1="458.00" x2="298.80" y2="462.60" stroke="#b3304a" stroke-width="1.1"/>
<line x1="312.70" y1="458.00" x2="312.70" y2="462.60" stroke="#b3304a" stroke-width="1.1"/>
<line x1="116.6" y1="114.5" x2="129.2" y2="114.5" stroke="#245483" stroke-width="1.9"/>
<line x1="116.6" y1="124.7" x2="129.2" y2="124.7" stroke="#b3304a" stroke-width="1.9"/>
<text x="132.80" y="117.10" font-size="7.1" text-anchor="start" fill="#222" textLength="113.4" lengthAdjust="spacingAndGlyphs" stroke="#222">Prior systemic therapy pooled safety</text>
<text x="132.80" y="127.30" font-size="7.1" text-anchor="start" fill="#222" textLength="118.5" lengthAdjust="spacingAndGlyphs" stroke="#222">Prior systemic therapy pooled efficacy</text>
<line x1="116.6" y1="343.8" x2="129.2" y2="343.8" stroke="#b3304a" stroke-width="1.9"/>
<line x1="116.6" y1="354.4" x2="129.2" y2="354.4" stroke="#245483" stroke-width="1.9"/>
<text x="132.8" y="346.2" font-size="7.1" fill="#222" stroke="#222">0 <tspan font-style="italic">S/A/R</tspan> <tspan textLength="31.8" lengthAdjust="spacingAndGlyphs">mutations</tspan></text>
<text x="132.8" y="356.6" font-size="7.1" fill="#222" stroke="#222">≥1 <tspan font-style="italic">S/A/R</tspan> <tspan textLength="28.5" lengthAdjust="spacingAndGlyphs">mutation</tspan></text>
<line x1="116.6" y1="542.9" x2="129.2" y2="542.9" stroke="#b3304a" stroke-width="1.9"/>
<line x1="116.6" y1="553.7" x2="129.2" y2="553.7" stroke="#245483" stroke-width="1.9"/>
<line x1="116.6" y1="564.4" x2="129.2" y2="564.4" stroke="#45a050" stroke-width="1.9"/>
<text x="132.80" y="545.10" font-size="7.05" text-anchor="start" fill="#222"  stroke="#222">MARS 0–1</text>
<text x="132.80" y="555.70" font-size="7.05" text-anchor="start" fill="#222"  stroke="#222">MARS 2</text>
<text x="132.80" y="566.30" font-size="7.05" text-anchor="start" fill="#222"  stroke="#222">MARS 3–5</text>
<text x="97.90" y="170.60" font-size="7.6" text-anchor="end" fill="#222"  stroke="#222">Number at risk</text>
<text x="97.90" y="182.10" font-size="7.6" text-anchor="end" fill="#3a6b9c"  stroke="#3a6b9c">Prior systemic therapy</text>
<text x="97.90" y="191.70" font-size="7.6" text-anchor="end" fill="#3a6b9c"  stroke="#3a6b9c">pooled safety</text>
<text x="97.90" y="202.70" font-size="7.6" text-anchor="end" fill="#c4354d"  stroke="#c4354d">Prior systemic</text>
<text x="97.90" y="212.20" font-size="7.6" text-anchor="end" fill="#c4354d"  stroke="#c4354d">therapy pooled efficacy</text>
<text x="117.00" y="186.80" font-size="7.8" text-anchor="middle" fill="#3a6b9c"  stroke="#3a6b9c">53</text>
<text x="166.56" y="186.80" font-size="7.8" text-anchor="middle" fill="#3a6b9c"  stroke="#3a6b9c">46</text>
<text x="216.12" y="186.80" font-size="7.8" text-anchor="middle" fill="#3a6b9c"  stroke="#3a6b9c">39</text>
<text x="265.68" y="186.80" font-size="7.8" text-anchor="middle" fill="#3a6b9c"  stroke="#3a6b9c">18</text>
<text x="315.24" y="186.80" font-size="7.8" text-anchor="middle" fill="#3a6b9c"  stroke="#3a6b9c">9</text>
<text x="364.80" y="186.80" font-size="7.8" text-anchor="middle" fill="#3a6b9c"  stroke="#3a6b9c">1</text>
<text x="414.36" y="186.80" font-size="7.8" text-anchor="middle" fill="#3a6b9c"  stroke="#3a6b9c">1</text>
<text x="463.92" y="186.80" font-size="7.8" text-anchor="middle" fill="#3a6b9c"  stroke="#3a6b9c">1</text>
<text x="513.48" y="186.80" font-size="7.8" text-anchor="middle" fill="#3a6b9c"  stroke="#3a6b9c">0</text>
<text x="117.00" y="207.70" font-size="7.8" text-anchor="middle" fill="#c4354d"  stroke="#c4354d">31</text>
<text x="166.56" y="207.70" font-size="7.8" text-anchor="middle" fill="#c4354d"  stroke="#c4354d">26</text>
<text x="216.12" y="207.70" font-size="7.8" text-anchor="middle" fill="#c4354d"  stroke="#c4354d">23</text>
<text x="265.68" y="207.70" font-size="7.8" text-anchor="middle" fill="#c4354d"  stroke="#c4354d">16</text>
<text x="315.24" y="207.70" font-size="7.8" text-anchor="middle" fill="#c4354d"  stroke="#c4354d">9</text>
<text x="364.80" y="207.70" font-size="7.8" text-anchor="middle" fill="#c4354d"  stroke="#c4354d">1</text>
<text x="414.36" y="207.70" font-size="7.8" text-anchor="middle" fill="#c4354d"  stroke="#c4354d">1</text>
<text x="463.92" y="207.70" font-size="7.8" text-anchor="middle" fill="#c4354d"  stroke="#c4354d">1</text>
<text x="513.48" y="207.70" font-size="7.8" text-anchor="middle" fill="#c4354d"  stroke="#c4354d">0</text>
<text x="97.90" y="401.00" font-size="7.6" text-anchor="end" fill="#222"  stroke="#222">Number at risk</text>
<text x="97.9" y="412.6" font-size="7.8" text-anchor="end" fill="#c4354d" stroke="#c4354d">0 <tspan font-style="italic">S/A/R</tspan> mutations</text>
<text x="97.9" y="421.6" font-size="7.8" text-anchor="end" fill="#3a6b9c" stroke="#3a6b9c">≥1 <tspan font-style="italic">S/A/R</tspan> mutation</text>
<text x="116.50" y="412.80" font-size="7.8" text-anchor="middle" fill="#c4354d"  stroke="#c4354d">33</text>
<text x="136.33" y="412.80" font-size="7.8" text-anchor="middle" fill="#c4354d"  stroke="#c4354d">33</text>
<text x="156.16" y="412.80" font-size="7.8" text-anchor="middle" fill="#c4354d"  stroke="#c4354d">29</text>
<text x="175.99" y="412.80" font-size="7.8" text-anchor="middle" fill="#c4354d"  stroke="#c4354d">27</text>
<text x="195.82" y="412.80" font-size="7.8" text-anchor="middle" fill="#c4354d"  stroke="#c4354d">26</text>
<text x="215.65" y="412.80" font-size="7.8" text-anchor="middle" fill="#c4354d"  stroke="#c4354d">17</text>
<text x="235.48" y="412.80" font-size="7.8" text-anchor="middle" fill="#c4354d"  stroke="#c4354d">12</text>
<text x="255.31" y="412.80" font-size="7.8" text-anchor="middle" fill="#c4354d"  stroke="#c4354d">5</text>
<text x="275.14" y="412.80" font-size="7.8" text-anchor="middle" fill="#c4354d"  stroke="#c4354d">5</text>
<text x="294.97" y="412.80" font-size="7.8" text-anchor="middle" fill="#c4354d"  stroke="#c4354d">2</text>
<text x="314.80" y="412.80" font-size="7.8" text-anchor="middle" fill="#c4354d"  stroke="#c4354d">0</text>
<text x="116.50" y="421.80" font-size="7.8" text-anchor="middle" fill="#3a6b9c"  stroke="#3a6b9c">20</text>
<text x="136.33" y="421.80" font-size="7.8" text-anchor="middle" fill="#3a6b9c"  stroke="#3a6b9c">18</text>
<text x="156.16" y="421.80" font-size="7.8" text-anchor="middle" fill="#3a6b9c"  stroke="#3a6b9c">17</text>
<text x="175.99" y="421.80" font-size="7.8" text-anchor="middle" fill="#3a6b9c"  stroke="#3a6b9c">16</text>
<text x="195.82" y="421.80" font-size="7.8" text-anchor="middle" fill="#3a6b9c"  stroke="#3a6b9c">13</text>
<text x="215.65" y="421.80" font-size="7.8" text-anchor="middle" fill="#3a6b9c"  stroke="#3a6b9c">10</text>
<text x="235.48" y="421.80" font-size="7.8" text-anchor="middle" fill="#3a6b9c"  stroke="#3a6b9c">6</text>
<text x="255.31" y="421.80" font-size="7.8" text-anchor="middle" fill="#3a6b9c"  stroke="#3a6b9c">5</text>
<text x="275.14" y="421.80" font-size="7.8" text-anchor="middle" fill="#3a6b9c"  stroke="#3a6b9c">4</text>
<text x="294.97" y="421.80" font-size="7.8" text-anchor="middle" fill="#3a6b9c"  stroke="#3a6b9c">2</text>
<text x="314.80" y="421.80" font-size="7.8" text-anchor="middle" fill="#3a6b9c"  stroke="#3a6b9c">1</text>
<text x="334.63" y="421.80" font-size="7.8" text-anchor="middle" fill="#3a6b9c"  stroke="#3a6b9c">1</text>
<text x="354.46" y="421.80" font-size="7.8" text-anchor="middle" fill="#3a6b9c"  stroke="#3a6b9c">1</text>
<text x="374.29" y="421.80" font-size="7.8" text-anchor="middle" fill="#3a6b9c"  stroke="#3a6b9c">1</text>
<text x="394.12" y="421.80" font-size="7.8" text-anchor="middle" fill="#3a6b9c"  stroke="#3a6b9c">1</text>
<text x="413.95" y="421.80" font-size="7.8" text-anchor="middle" fill="#3a6b9c"  stroke="#3a6b9c">1</text>
<text x="433.78" y="421.80" font-size="7.8" text-anchor="middle" fill="#3a6b9c"  stroke="#3a6b9c">0</text>
<text x="97.90" y="609.80" font-size="7.6" text-anchor="end" fill="#222"  stroke="#222">Number at risk</text>
<text x="97.90" y="622.40" font-size="7.9" text-anchor="end" fill="#c4354d"  stroke="#c4354d">MARS 0–1</text>
<text x="97.90" y="631.80" font-size="7.9" text-anchor="end" fill="#2d5483"  stroke="#2d5483">MARS 2</text>
<text x="97.90" y="641.40" font-size="7.9" text-anchor="end" fill="#4fae55"  stroke="#4fae55">MARS 3–5</text>
<text x="116.50" y="622.30" font-size="7.8" text-anchor="middle" fill="#c4354d"  stroke="#c4354d">19</text>
<text x="136.33" y="622.30" font-size="7.8" text-anchor="middle" fill="#c4354d"  stroke="#c4354d">19</text>
<text x="156.16" y="622.30" font-size="7.8" text-anchor="middle" fill="#c4354d"  stroke="#c4354d">16</text>
<text x="175.99" y="622.30" font-size="7.8" text-anchor="middle" fill="#c4354d"  stroke="#c4354d">16</text>
<text x="195.82" y="622.30" font-size="7.8" text-anchor="middle" fill="#c4354d"  stroke="#c4354d">15</text>
<text x="215.65" y="622.30" font-size="7.8" text-anchor="middle" fill="#c4354d"  stroke="#c4354d">9</text>
<text x="235.48" y="622.30" font-size="7.8" text-anchor="middle" fill="#c4354d"  stroke="#c4354d">6</text>
<text x="255.31" y="622.30" font-size="7.8" text-anchor="middle" fill="#c4354d"  stroke="#c4354d">4</text>
<text x="275.14" y="622.30" font-size="7.8" text-anchor="middle" fill="#c4354d"  stroke="#c4354d">4</text>
<text x="294.97" y="622.30" font-size="7.8" text-anchor="middle" fill="#c4354d"  stroke="#c4354d">2</text>
<text x="314.80" y="622.30" font-size="7.8" text-anchor="middle" fill="#c4354d"  stroke="#c4354d">0</text>
<text x="116.50" y="631.70" font-size="7.8" text-anchor="middle" fill="#2d5483"  stroke="#2d5483">14</text>
<text x="136.33" y="631.70" font-size="7.8" text-anchor="middle" fill="#2d5483"  stroke="#2d5483">14</text>
<text x="156.16" y="631.70" font-size="7.8" text-anchor="middle" fill="#2d5483"  stroke="#2d5483">14</text>
<text x="175.99" y="631.70" font-size="7.8" text-anchor="middle" fill="#2d5483"  stroke="#2d5483">12</text>
<text x="195.82" y="631.70" font-size="7.8" text-anchor="middle" fill="#2d5483"  stroke="#2d5483">12</text>
<text x="215.65" y="631.70" font-size="7.8" text-anchor="middle" fill="#2d5483"  stroke="#2d5483">9</text>
<text x="235.48" y="631.70" font-size="7.8" text-anchor="middle" fill="#2d5483"  stroke="#2d5483">6</text>
<text x="255.31" y="631.70" font-size="7.8" text-anchor="middle" fill="#2d5483"  stroke="#2d5483">1</text>
<text x="275.14" y="631.70" font-size="7.8" text-anchor="middle" fill="#2d5483"  stroke="#2d5483">1</text>
<text x="294.97" y="631.70" font-size="7.8" text-anchor="middle" fill="#2d5483"  stroke="#2d5483">0</text>
<text x="116.50" y="641.50" font-size="7.8" text-anchor="middle" fill="#4fae55"  stroke="#4fae55">20</text>
<text x="136.33" y="641.50" font-size="7.8" text-anchor="middle" fill="#4fae55"  stroke="#4fae55">18</text>
<text x="156.16" y="641.50" font-size="7.8" text-anchor="middle" fill="#4fae55"  stroke="#4fae55">16</text>
<text x="175.99" y="641.50" font-size="7.8" text-anchor="middle" fill="#4fae55"  stroke="#4fae55">15</text>
<text x="195.82" y="641.50" font-size="7.8" text-anchor="middle" fill="#4fae55"  stroke="#4fae55">12</text>
<text x="215.65" y="641.50" font-size="7.8" text-anchor="middle" fill="#4fae55"  stroke="#4fae55">9</text>
<text x="235.48" y="641.50" font-size="7.8" text-anchor="middle" fill="#4fae55"  stroke="#4fae55">6</text>
<text x="255.31" y="641.50" font-size="7.8" text-anchor="middle" fill="#4fae55"  stroke="#4fae55">5</text>
<text x="275.14" y="641.50" font-size="7.8" text-anchor="middle" fill="#4fae55"  stroke="#4fae55">4</text>
<text x="294.97" y="641.50" font-size="7.8" text-anchor="middle" fill="#4fae55"  stroke="#4fae55">2</text>
<text x="314.80" y="641.50" font-size="7.8" text-anchor="middle" fill="#4fae55"  stroke="#4fae55">1</text>
<text x="334.63" y="641.50" font-size="7.8" text-anchor="middle" fill="#4fae55"  stroke="#4fae55">1</text>
<text x="354.46" y="641.50" font-size="7.8" text-anchor="middle" fill="#4fae55"  stroke="#4fae55">1</text>
<text x="374.29" y="641.50" font-size="7.8" text-anchor="middle" fill="#4fae55"  stroke="#4fae55">1</text>
<text x="394.12" y="641.50" font-size="7.8" text-anchor="middle" fill="#4fae55"  stroke="#4fae55">1</text>
<text x="413.95" y="641.50" font-size="7.8" text-anchor="middle" fill="#4fae55"  stroke="#4fae55">1</text>
<text x="433.78" y="641.50" font-size="7.8" text-anchor="middle" fill="#4fae55"  stroke="#4fae55">0</text>
</svg></body></html>
